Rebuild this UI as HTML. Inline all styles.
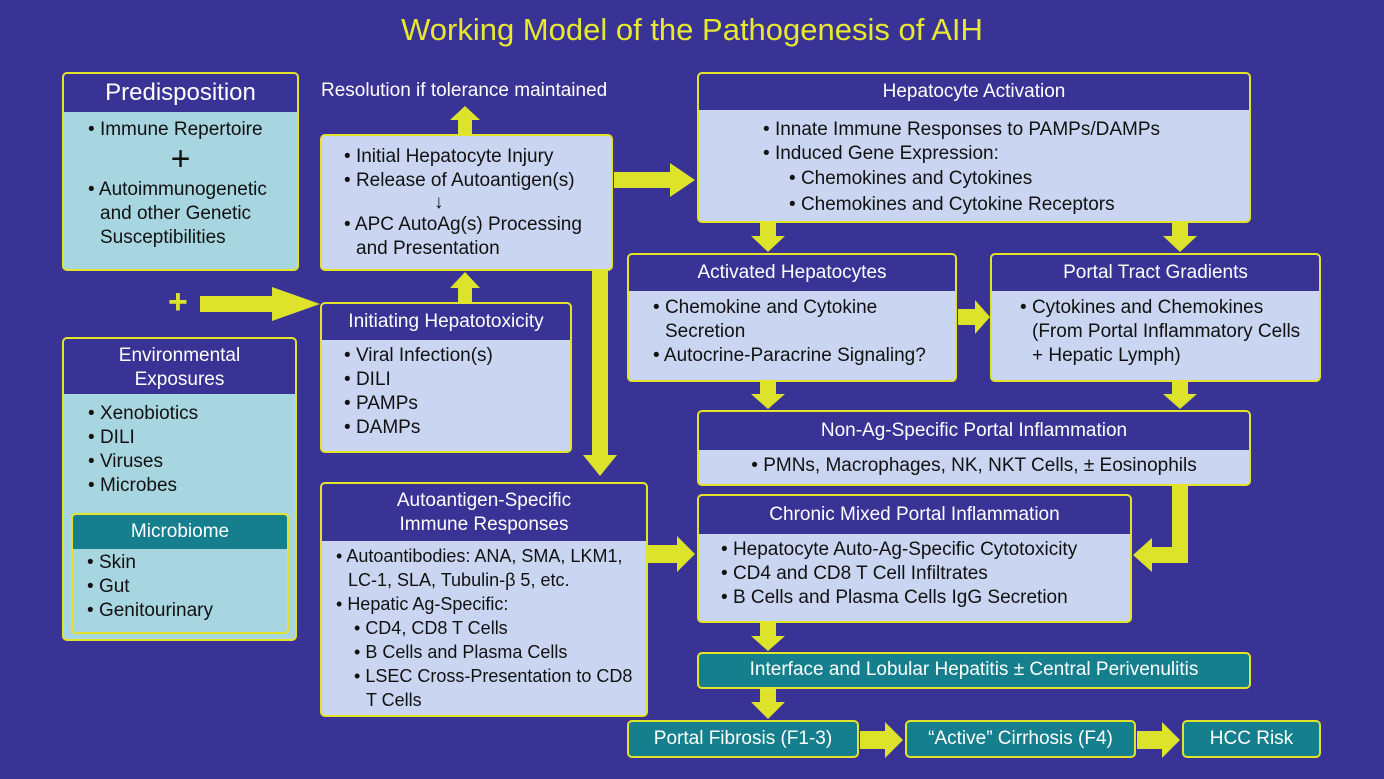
<!DOCTYPE html>
<html><head><meta charset="utf-8"><style>
body{margin:0;width:1384px;height:779px;background:#3a3396;position:relative;overflow:hidden;font-family:"Liberation Sans",sans-serif;}
.b{position:absolute;border:2.5px solid #e3e32a;border-radius:5px;background:#c9d5f1;box-sizing:border-box;overflow:hidden;color:#111;font-size:19px;line-height:24px;}
.h{background:#3a3396;color:#fff;text-align:center;font-size:19px;line-height:24px;}
.t{position:absolute;color:#fff;font-size:19px;}
.teal{background:#167f8e;color:#fff;text-align:center;}
ul{margin:0;padding:0;list-style:none}
li{padding-left:18px;text-indent:-12px}
li:before{content:"• ";}
svg{position:absolute;left:0;top:0}
</style></head><body>
<div class="t" style="left:0;width:1384px;top:12px;text-align:center;color:#e8e830;font-size:31px">Working Model of the Pathogenesis of AIH</div>

<div class="b" style="left:62px;top:72px;width:237px;height:199px;background:#a8d6e0">
<div class="h" style="font-size:24px;line-height:38px;height:38px">Predisposition</div>
<ul style="padding:6px 8px 0 18px"><li>Immune Repertoire</li></ul>
<div style="text-align:center;font-size:34px;line-height:34px">+</div>
<ul style="padding:2px 8px 0 18px"><li>Autoimmunogenetic and other Genetic Susceptibilities</li></ul>
</div>

<div class="b" style="left:62px;top:337px;width:235px;height:304px;background:#a8d6e0">
<div class="h" style="padding:5px 0 2px">Environmental<br>Exposures</div>
<ul style="padding:8px 8px 0 18px"><li>Xenobiotics</li><li>DILI</li><li>Viruses</li><li>Microbes</li></ul>
<div class="b" style="left:7px;top:174px;width:218px;height:121px;background:#a8d6e0">
<div class="teal" style="line-height:34px;height:34px">Microbiome</div>
<ul style="padding:2px 8px 0 8px"><li>Skin</li><li>Gut</li><li>Genitourinary</li></ul>
</div></div>

<div class="t" style="left:321px;top:80px">Resolution if tolerance maintained</div>
<div class="b" style="left:320px;top:134px;width:293px;height:137px">
<ul style="padding:9px 8px 0 16px"><li>Initial Hepatocyte Injury</li><li>Release of Autoantigen(s)</li></ul>
<div style="padding-left:112px;line-height:20px">↓</div>
<ul style="padding:0 8px 0 16px"><li>APC AutoAg(s) Processing and Presentation</li></ul></div>

<div class="b" style="left:320px;top:302px;width:252px;height:151px">
<div class="h" style="line-height:36px;height:36px">Initiating Hepatotoxicity</div>
<ul style="padding:4px 8px 0 16px;line-height:24px"><li>Viral Infection(s)</li><li>DILI</li><li>PAMPs</li><li>DAMPs</li></ul></div>

<div class="b" style="left:320px;top:482px;width:328px;height:235px">
<div class="h" style="padding:5px 0 4px">Autoantigen-Specific<br>Immune Responses</div>
<ul style="padding:3px 4px 0 8px;font-size:18px;line-height:24px"><li>Autoantibodies: ANA, SMA, LKM1, LC-1, SLA, Tubulin-β 5, etc.</li><li>Hepatic Ag-Specific:</li></ul>
<ul style="padding:0 4px 0 26px;font-size:18px;line-height:24px"><li>CD4, CD8 T Cells</li><li>B Cells and Plasma Cells</li><li>LSEC Cross-Presentation to CD8 T Cells</li></ul></div>

<div class="b" style="left:697px;top:72px;width:554px;height:151px">
<div class="h" style="line-height:36px;height:36px">Hepatocyte Activation</div>
<ul style="padding:8px 8px 0 58px;line-height:24px"><li>Innate Immune Responses to PAMPs/DAMPs</li><li>Induced Gene Expression:</li></ul>
<ul style="padding:0 8px 0 84px;line-height:26px"><li>Chemokines and Cytokines</li><li>Chemokines and Cytokine Receptors</li></ul></div>

<div class="b" style="left:627px;top:253px;width:330px;height:129px">
<div class="h" style="line-height:36px;height:36px">Activated Hepatocytes</div>
<ul style="padding:5px 6px 0 18px"><li>Chemokine and Cytokine Secretion</li><li>Autocrine-Paracrine Signaling?</li></ul></div>

<div class="b" style="left:990px;top:253px;width:331px;height:129px">
<div class="h" style="line-height:36px;height:36px">Portal Tract Gradients</div>
<ul style="padding:5px 6px 0 22px"><li>Cytokines and Chemokines (From Portal Inflammatory Cells + Hepatic Lymph)</li></ul></div>

<div class="b" style="left:697px;top:410px;width:554px;height:76px">
<div class="h" style="line-height:38px;height:38px">Non-Ag-Specific Portal Inflammation</div>
<div style="text-align:center;line-height:32px">• PMNs, Macrophages, NK, NKT Cells, ± Eosinophils</div></div>

<div class="b" style="left:697px;top:494px;width:435px;height:129px">
<div class="h" style="line-height:38px;height:38px">Chronic Mixed Portal Inflammation</div>
<ul style="padding:4px 6px 0 16px"><li>Hepatocyte Auto-Ag-Specific Cytotoxicity</li><li>CD4 and CD8 T Cell Infiltrates</li><li>B Cells and Plasma Cells IgG Secretion</li></ul></div>

<div class="b teal" style="left:697px;top:652px;width:554px;height:37px;line-height:32px">Interface and Lobular Hepatitis ± Central Perivenulitis</div>
<div class="b teal" style="left:627px;top:720px;width:232px;height:38px;line-height:33px">Portal Fibrosis (F1-3)</div>
<div class="b teal" style="left:905px;top:720px;width:231px;height:38px;line-height:33px">“Active” Cirrhosis (F4)</div>
<div class="b teal" style="left:1182px;top:720px;width:139px;height:38px;line-height:33px">HCC Risk</div>

<svg width="1384" height="779" fill="#dde32a">
<text x="168" y="313" font-size="34" font-family="Liberation Sans" fill="#dde32a" font-weight="bold">+</text>
<polygon points="200,296 272,296 272,287 320,304 272,321 272,312 200,312"/>
<polygon points="458,134 458,120 450,120 465,106 480,120 472,120 472,134"/>
<polygon points="458,302 458,288 450,288 465,272 480,288 472,288 472,302"/>
<polygon points="614,172 670,172 670,163 695,180 670,197 670,188 614,188"/>
<polygon points="592,271 608,271 608,455 617,455 600,476 583,455 592,455"/>
<polygon points="760,223 776,223 776,236 785,236 768,252 751,236 760,236"/>
<polygon points="1172,223 1188,223 1188,236 1197,236 1180,252 1163,236 1172,236"/>
<polygon points="958,309 975,309 975,300 990,317 975,334 975,325 958,325"/>
<polygon points="760,382 776,382 776,394 785,394 768,409 751,394 760,394"/>
<polygon points="1172,382 1188,382 1188,394 1197,394 1180,409 1163,394 1172,394"/>
<polygon points="1172,486 1188,486 1188,563 1152,563 1152,572 1133,555 1152,538 1152,547 1172,547"/>
<polygon points="648,545 677,545 677,536 695,554 677,572 677,563 648,563"/>
<polygon points="760,623 776,623 776,636 785,636 768,651 751,636 760,636"/>
<polygon points="760,689 776,689 776,702 785,702 768,719 751,702 760,702"/>
<polygon points="860,731 885,731 885,722 903,740 885,758 885,749 860,749"/>
<polygon points="1137,731 1162,731 1162,722 1180,740 1162,758 1162,749 1137,749"/>
</svg>
</body></html>
